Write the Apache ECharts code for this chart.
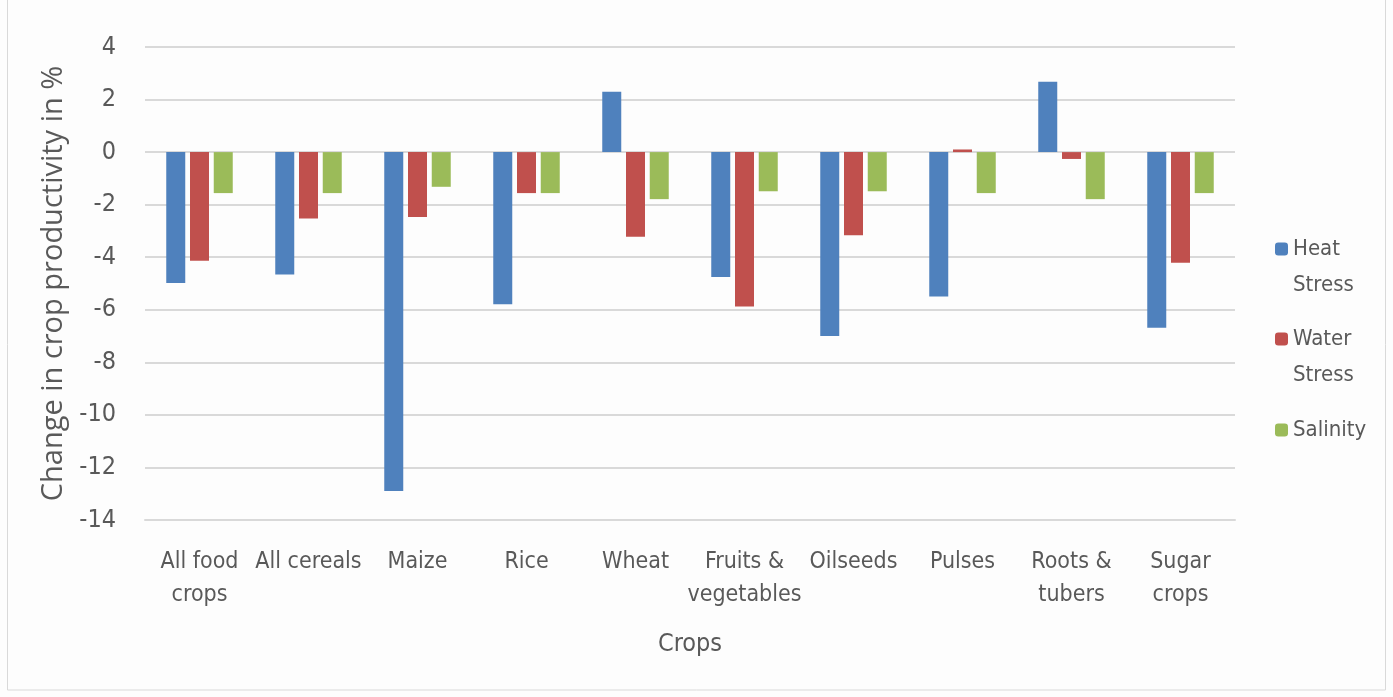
<!DOCTYPE html>
<html><head><meta charset="utf-8">
<script src="https://cdn.jsdelivr.net/npm/echarts@6/dist/echarts.min.js"></script>
<style>html,body{margin:0;padding:0;background:#fdfdfd}#c{width:1393px;height:697px}</style>
</head><body><div id="c"></div>
<script>
const categories = ['All food\ncrops','All cereals','Maize','Rice','Wheat','Fruits &\nvegetables','Oilseeds','Pulses','Roots &\ntubers','Sugar\ncrops'];
const heatStress  = [-4.98, -4.66, -12.9, -5.79, 2.3, -4.75, -7.0, -5.49, 2.68, -6.68];
const waterStress = [-4.13, -2.53, -2.47, -1.56, -3.22, -5.88, -3.16, 0.1, -0.26, -4.21];
const salinity    = [-1.56, -1.56, -1.32, -1.56, -1.79, -1.49, -1.49, -1.56, -1.79, -1.56];
const seriesNames = ['Heat Stress', 'Water Stress', 'Salinity'];
const yTicks = {min: -14, max: 4, step: 2};

const NARROW = '"DejaVu Sans Condensed", "Open Sans", sans-serif';
const FONT = '"Open Sans", "Liberation Sans", sans-serif';
const TXT = '#595959';
const colors = ['#4f81bd', '#c0504d', '#9bbb59'];

function legendFor(name, top, twoLine) {
  return {
    show: true, orient: 'vertical', left: 1270, top: top,
    itemWidth: 13, itemHeight: 13, itemGap: 0,
    data: [name],
    formatter: n => twoLine ? ' \n' + n.replace(' ', '\n') : n,
    textStyle: {color: TXT, fontSize: 22, fontFamily: NARROW, lineHeight: 36},
    selectedMode: false
  };
}

const chart = echarts.init(document.getElementById('c'), null, {renderer: 'canvas'});
chart.setOption({
  backgroundColor: '#fdfdfd',
  animation: false,
  color: colors,
  graphic: [{type: 'rect', shape: {x: 7.5, y: -1, width: 1378, height: 691}, style: {fill: 'none', stroke: '#d9d9d9', lineWidth: 1}}],
  legend: [legendFor(seriesNames[0], 190, true), legendFor(seriesNames[1], 280, true), legendFor(seriesNames[2], 407, false)],
  grid: {left: 145, right: 158, top: 47, bottom: 177, containLabel: false},
  xAxis: {
    type: 'category', data: categories,
    name: 'Crops', nameLocation: 'middle', nameGap: 112,
    nameTextStyle: {color: TXT, fontSize: 25, fontFamily: NARROW},
    axisLine: {onZero: false, lineStyle: {color: '#d9d9d9', width: 2}},
    axisTick: {show: false},
    axisLabel: {interval: 0, color: TXT, fontSize: 23, fontFamily: NARROW, lineHeight: 33, margin: 26}
  },
  yAxis: {
    type: 'value', min: yTicks.min, max: yTicks.max, interval: yTicks.step,
    name: 'Change in crop productivity in %', nameLocation: 'middle', nameGap: 72, nameRotate: 90,
    nameTextStyle: {color: TXT, fontSize: 29, fontFamily: FONT},
    axisLine: {show: false}, axisTick: {show: false},
    axisLabel: {color: TXT, fontSize: 25, fontFamily: NARROW, margin: 29},
    splitLine: {lineStyle: {color: '#d9d9d9', width: 2}}
  },
  series: [
    {name: seriesNames[0], type: 'bar', data: heatStress, barWidth: 19, barGap: '25%'},
    {name: seriesNames[1], type: 'bar', data: waterStress, barWidth: 19, barGap: '25%'},
    {name: seriesNames[2], type: 'bar', data: salinity, barWidth: 19, barGap: '25%'}
  ]
});
</script></body></html>
